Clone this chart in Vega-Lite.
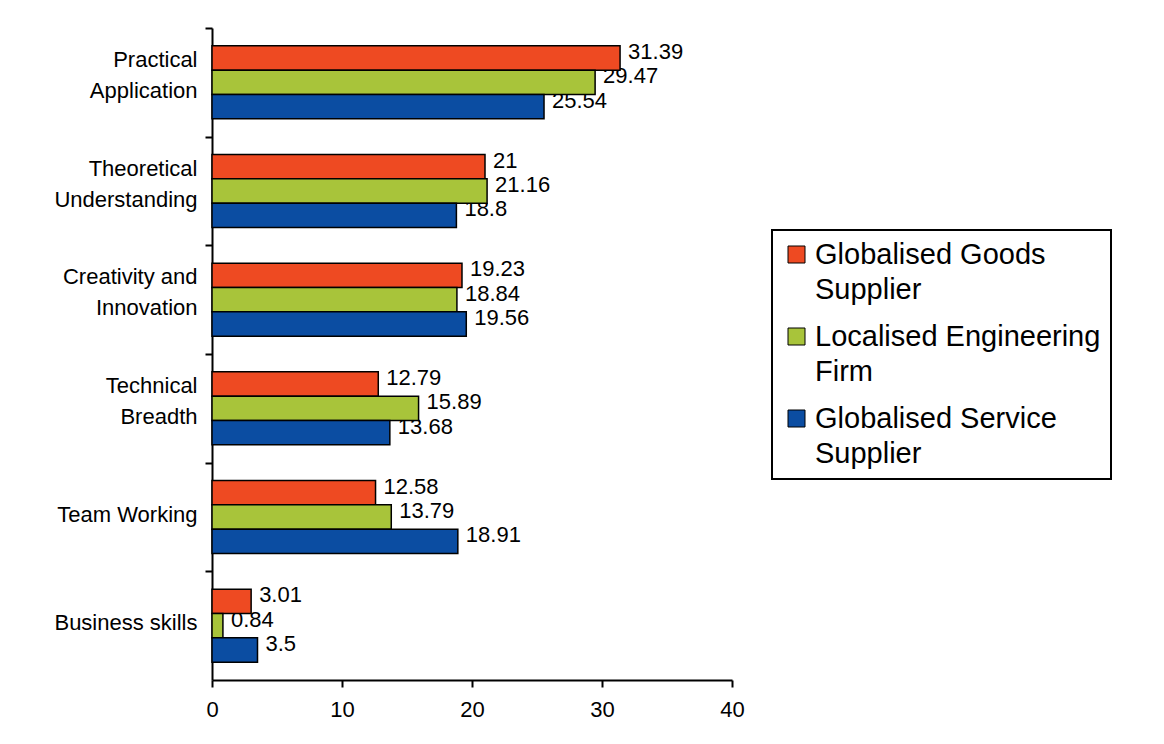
{
  "$schema": "https://vega.github.io/schema/vega-lite/v6.json",
  "autosize": "none",
  "padding": {"left": 212, "top": 28, "right": 432, "bottom": 64},
  "width": 520,
  "height": 652,
  "background": "white",
  "config": {
    "view": {"stroke": null},
    "font": "Liberation Sans"
  },
  "data": {
    "values": [
      {"skill": "Practical Application", "supplier": "Globalised Goods Supplier", "value": 31.39},
      {"skill": "Practical Application", "supplier": "Localised Engineering Firm", "value": 29.47},
      {"skill": "Practical Application", "supplier": "Globalised Service Supplier", "value": 25.54},
      {"skill": "Theoretical Understanding", "supplier": "Globalised Goods Supplier", "value": 21},
      {"skill": "Theoretical Understanding", "supplier": "Localised Engineering Firm", "value": 21.16},
      {"skill": "Theoretical Understanding", "supplier": "Globalised Service Supplier", "value": 18.8},
      {"skill": "Creativity and Innovation", "supplier": "Globalised Goods Supplier", "value": 19.23},
      {"skill": "Creativity and Innovation", "supplier": "Localised Engineering Firm", "value": 18.84},
      {"skill": "Creativity and Innovation", "supplier": "Globalised Service Supplier", "value": 19.56},
      {"skill": "Technical Breadth", "supplier": "Globalised Goods Supplier", "value": 12.79},
      {"skill": "Technical Breadth", "supplier": "Localised Engineering Firm", "value": 15.89},
      {"skill": "Technical Breadth", "supplier": "Globalised Service Supplier", "value": 13.68},
      {"skill": "Team Working", "supplier": "Globalised Goods Supplier", "value": 12.58},
      {"skill": "Team Working", "supplier": "Localised Engineering Firm", "value": 13.79},
      {"skill": "Team Working", "supplier": "Globalised Service Supplier", "value": 18.91},
      {"skill": "Business skills", "supplier": "Globalised Goods Supplier", "value": 3.01},
      {"skill": "Business skills", "supplier": "Localised Engineering Firm", "value": 0.84},
      {"skill": "Business skills", "supplier": "Globalised Service Supplier", "value": 3.5}
    ]
  },
  "encoding": {
    "y": {
      "field": "skill",
      "type": "nominal",
      "sort": ["Practical Application", "Theoretical Understanding", "Creativity and Innovation", "Technical Breadth", "Team Working", "Business skills"],
      "scale": {"paddingInner": 0.328, "paddingOuter": 0.164},
      "axis": {
        "title": null,
        "grid": false,
        "bandPosition": 0,
        "tickOffset": -17.8,
        "tickExtra": false,
        "domainColor": "black",
        "domainWidth": 2,
        "tickColor": "black",
        "tickWidth": 2,
        "tickSize": 7,
        "labelPadding": 8,
        "labelFontSize": 22,
        "labelColor": "black",
        "labelLineHeight": 31,
        "labelAlign": "right",
        "labelBaseline": "middle",
        "labelLimit": 300,
        "labelOffset": {
          "condition": {"test": "datum.value == 'Team Working' || datum.value == 'Business skills'", "value": 14.8},
          "value": -5.2
        },
        "labelExpr": "datum.value == 'Practical Application' ? ['Practical', 'Application'] : datum.value == 'Theoretical Understanding' ? ['Theoretical', 'Understanding'] : datum.value == 'Creativity and Innovation' ? ['Creativity and', 'Innovation'] : datum.value == 'Technical Breadth' ? ['Technical', 'Breadth'] : datum.value"
      }
    },
    "yOffset": {
      "field": "supplier",
      "type": "nominal",
      "sort": ["Globalised Goods Supplier", "Localised Engineering Firm", "Globalised Service Supplier"],
      "scale": {"paddingInner": 0, "paddingOuter": 0}
    },
    "x": {
      "field": "value",
      "type": "quantitative",
      "scale": {"domain": [0, 40], "nice": false},
      "axis": {
        "title": null,
        "grid": false,
        "values": [0, 10, 20, 30, 40],
        "domainColor": "black",
        "domainWidth": 2,
        "tickColor": "black",
        "tickWidth": 2,
        "tickSize": 7,
        "labelPadding": 12,
        "labelFontSize": 22,
        "labelColor": "black",
        "labelFlush": false
      }
    }
  },
  "layer": [
    {
      "mark": {"type": "text", "align": "left", "baseline": "middle", "dx": 8, "dy": -6, "fontSize": 22, "font": "Liberation Sans", "color": "black"},
      "encoding": {
        "text": {"field": "value", "type": "quantitative", "format": ".4~g"}
      }
    },
    {
      "mark": {"type": "bar", "stroke": "black", "strokeWidth": 1.5},
      "encoding": {
        "color": {
          "field": "supplier",
          "type": "nominal",
          "sort": ["Globalised Goods Supplier", "Localised Engineering Firm", "Globalised Service Supplier"],
          "scale": {
            "domain": ["Globalised Goods Supplier", "Localised Engineering Firm", "Globalised Service Supplier"],
            "range": ["#EE4A22", "#A8C43A", "#0B4DA2"]
          },
          "legend": {
            "orient": "none",
            "legendX": 560,
            "legendY": 202,
            "title": null,
            "padding": 10,
            "rowPadding": 17,
            "symbolType": "square",
            "symbolSize": 289,
            "symbolStrokeColor": "black",
            "symbolStrokeWidth": 1,
            "symbolOpacity": 1,
            "labelFontSize": 29,
            "labelColor": "black",
            "labelOffset": 4,
            "labelLimit": 500,
            "strokeColor": "black",
            "labelExpr": "datum.label == 'Globalised Goods Supplier' ? ['Globalised Goods', 'Supplier'] : datum.label == 'Localised Engineering Firm' ? ['Localised Engineering', 'Firm'] : ['Globalised Service', 'Supplier']",
            "encode": {
              "legend": {"update": {"strokeWidth": {"value": 2}}},
              "labels": {"update": {"lineHeight": {"value": 35}}}
            }
          }
        }
      }
    }
  ]
}
